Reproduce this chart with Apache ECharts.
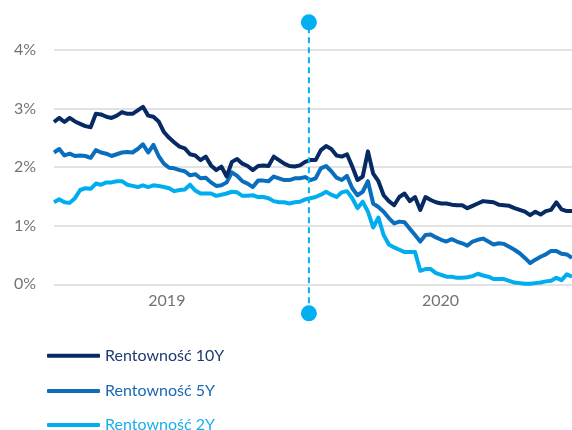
<!DOCTYPE html>
<html>
<head>
<meta charset="utf-8">
<script src="https://cdn.jsdelivr.net/npm/echarts@6/dist/echarts.min.js"></script>
<style>
  html, body { margin: 0; padding: 0; background: #ffffff; }
  #chart { width: 572px; height: 430px; }
</style>
</head>
<body>
<div id="chart"></div>
<script>
// Weekly observations (Fridays), Feb 2019 – Dec 2020
const dates = [
  '2019-02-01','2019-02-08','2019-02-15','2019-02-22','2019-03-01','2019-03-08','2019-03-15','2019-03-22','2019-03-29','2019-04-05',
  '2019-04-12','2019-04-19','2019-04-26','2019-05-03','2019-05-10','2019-05-17','2019-05-24','2019-05-31','2019-06-07','2019-06-14',
  '2019-06-21','2019-06-28','2019-07-05','2019-07-12','2019-07-19','2019-07-26','2019-08-02','2019-08-09','2019-08-16','2019-08-23',
  '2019-08-30','2019-09-06','2019-09-13','2019-09-20','2019-09-27','2019-10-04','2019-10-11','2019-10-18','2019-10-25','2019-11-01',
  '2019-11-08','2019-11-15','2019-11-22','2019-11-29','2019-12-06','2019-12-13','2019-12-20','2019-12-27','2020-01-03','2020-01-10',
  '2020-01-17','2020-01-24','2020-01-31','2020-02-07','2020-02-14','2020-02-21','2020-02-28','2020-03-06','2020-03-13','2020-03-20',
  '2020-03-27','2020-04-03','2020-04-10','2020-04-17','2020-04-24','2020-05-01','2020-05-08','2020-05-15','2020-05-22','2020-05-29',
  '2020-06-05','2020-06-12','2020-06-19','2020-06-26','2020-07-03','2020-07-10','2020-07-17','2020-07-24','2020-07-31','2020-08-07',
  '2020-08-14','2020-08-21','2020-08-28','2020-09-04','2020-09-11','2020-09-18','2020-09-25','2020-10-02','2020-10-09','2020-10-16',
  '2020-10-23','2020-10-30','2020-11-06','2020-11-13','2020-11-20','2020-11-27','2020-12-04','2020-12-11','2020-12-18','2020-12-25'
];

// Yields in percent
const yield10Y = [
  2.77, 2.84, 2.77, 2.84, 2.78, 2.74, 2.70, 2.68, 2.91, 2.90,
  2.86, 2.84, 2.88, 2.94, 2.91, 2.91, 2.97, 3.03, 2.88, 2.86,
  2.78, 2.60, 2.50, 2.42, 2.35, 2.32, 2.22, 2.20, 2.12, 2.18,
  2.03, 1.95, 2.01, 1.84, 2.09, 2.14, 2.06, 2.02, 1.95, 2.02,
  2.03, 2.02, 2.18, 2.12, 2.06, 2.02, 2.01, 2.03, 2.09, 2.12,
  2.12, 2.29, 2.36, 2.31, 2.20, 2.18, 2.22, 2.01, 1.78, 1.84,
  2.27, 1.89, 1.76, 1.52, 1.42, 1.35, 1.49, 1.55, 1.42, 1.49,
  1.27, 1.49, 1.44, 1.40, 1.38, 1.38, 1.36, 1.35, 1.35, 1.30,
  1.34, 1.38, 1.42, 1.41, 1.40, 1.36, 1.35, 1.34, 1.30, 1.27,
  1.24, 1.18, 1.24, 1.19, 1.25, 1.27, 1.40, 1.28, 1.25, 1.25
];
const yield5Y = [
  2.25, 2.31, 2.20, 2.23, 2.19, 2.20, 2.19, 2.16, 2.29, 2.25,
  2.23, 2.19, 2.22, 2.25, 2.26, 2.25, 2.31, 2.39, 2.25, 2.38,
  2.19, 2.06, 1.99, 1.98, 1.95, 1.93, 1.86, 1.88, 1.81, 1.82,
  1.74, 1.68, 1.69, 1.74, 1.91, 1.85, 1.76, 1.72, 1.66, 1.77,
  1.77, 1.76, 1.84, 1.81, 1.78, 1.78, 1.81, 1.81, 1.83, 1.78,
  1.81, 1.98, 2.02, 1.93, 1.82, 1.78, 1.85, 1.64, 1.52, 1.58,
  1.76, 1.38, 1.32, 1.24, 1.13, 1.04, 1.07, 1.06, 0.95, 0.84,
  0.73, 0.84, 0.85, 0.80, 0.76, 0.73, 0.77, 0.73, 0.70, 0.66,
  0.73, 0.76, 0.78, 0.73, 0.68, 0.70, 0.69, 0.64, 0.59, 0.53,
  0.45, 0.36, 0.42, 0.47, 0.51, 0.57, 0.57, 0.52, 0.51, 0.45
];
const yield2Y = [
  1.40, 1.45, 1.40, 1.39, 1.47, 1.61, 1.64, 1.63, 1.72, 1.70,
  1.74, 1.74, 1.76, 1.76, 1.70, 1.68, 1.66, 1.69, 1.66, 1.69,
  1.68, 1.66, 1.64, 1.59, 1.61, 1.62, 1.70, 1.60, 1.55, 1.55,
  1.55, 1.51, 1.53, 1.55, 1.58, 1.57, 1.51, 1.51, 1.52, 1.49,
  1.49, 1.47, 1.42, 1.40, 1.40, 1.38, 1.40, 1.41, 1.45, 1.47,
  1.49, 1.53, 1.58, 1.53, 1.49, 1.57, 1.59, 1.47, 1.30, 1.41,
  1.24, 0.97, 1.14, 0.84, 0.68, 0.63, 0.59, 0.55, 0.55, 0.55,
  0.23, 0.26, 0.26, 0.19, 0.16, 0.13, 0.13, 0.11, 0.11, 0.12,
  0.14, 0.18, 0.15, 0.13, 0.09, 0.09, 0.09, 0.06, 0.03, 0.02,
  0.01, 0.01, 0.02, 0.03, 0.05, 0.06, 0.11, 0.07, 0.17, 0.13
];

const seriesNames = ['Rentowność 10Y', 'Rentowność 5Y', 'Rentowność 2Y'];
const yearLabelDates = ['2019-07-02', '2020-07-02'];
const markerDate = '2020-01-08';

const colors = { y10: '#062a63', y5: '#0a6ebd', y2: '#00aeef' };
const textColors = { y10: '#1f3a70', y5: '#1a68b4', y2: '#1aaeed' };
const font = 'Lato, "Open Sans", sans-serif';

// Dates are placed on a numeric (timestamp) axis
const ts = d => Date.parse(d);
const pairs = vals => dates.map((d, i) => [ts(d), vals[i]]);
const xMin = ts(dates[0]);
const xMax = ts(dates[dates.length - 1]);

const chart = echarts.init(document.getElementById('chart'), null, { renderer: 'canvas' });

function legendAt(name, top, color) {
  return {
    data: [name],
    left: 47,
    top: top,
    padding: 0,
    icon: 'roundRect',
    itemWidth: 53,
    itemHeight: 4,
    selectedMode: false,
    textStyle: { color: color, fontSize: 16, fontFamily: font, lineHeight: 20 }
  };
}

chart.setOption({
  animation: false,
  backgroundColor: '#ffffff',
  grid: [
    { left: 54, right: 0, top: 50, bottom: 145.7 },
    { left: 54, right: 0, top: 22.3, bottom: 116.7 }
  ],
  xAxis: [
    {
      type: 'value',
      gridIndex: 0,
      min: xMin,
      max: xMax,
      axisLine: { show: false },
      axisTick: { show: false },
      splitLine: { show: false },
      axisLabel: {
        customValues: yearLabelDates.map(ts),
        formatter: v => String(new Date(v).getUTCFullYear()),
        color: '#737373',
        fontSize: 16,
        fontFamily: font,
        margin: 9
      }
    },
    {
      type: 'value',
      gridIndex: 1,
      min: xMin,
      max: xMax,
      show: false
    }
  ],
  yAxis: [
    {
      type: 'value',
      gridIndex: 0,
      min: 0,
      max: 4,
      interval: 1,
      axisLine: { show: false },
      axisTick: { show: false },
      axisLabel: {
        formatter: '{value}%',
        color: '#737373',
        fontSize: 16,
        fontFamily: font,
        margin: 18
      },
      splitLine: { lineStyle: { color: '#d9d9d9', width: 1.5 } }
    },
    { type: 'value', gridIndex: 1, min: 0, max: 1, show: false }
  ],
  legend: [
    legendAt(seriesNames[0], 345.7, textColors.y10),
    legendAt(seriesNames[1], 381, textColors.y5),
    legendAt(seriesNames[2], 415, textColors.y2)
  ],
  series: [
    {
      name: seriesNames[2], type: 'line', data: pairs(yield2Y),
      showSymbol: false, symbol: 'none', color: colors.y2,
      lineStyle: { width: 4, color: colors.y2, join: 'round' }
    },
    {
      name: seriesNames[1], type: 'line', data: pairs(yield5Y),
      showSymbol: false, symbol: 'none', color: colors.y5,
      lineStyle: { width: 4, color: colors.y5, join: 'round' }
    },
    {
      name: seriesNames[0], type: 'line', data: pairs(yield10Y),
      showSymbol: false, symbol: 'none', color: colors.y10,
      lineStyle: { width: 4, color: colors.y10, join: 'round' }
    },
    {
      name: 'marker', type: 'line', xAxisIndex: 1, yAxisIndex: 1,
      data: [[ts(markerDate), 0], [ts(markerDate), 1]],
      symbol: 'circle', symbolSize: 16, showSymbol: true, silent: true,
      itemStyle: { color: '#00b0f0' },
      lineStyle: { color: '#00b0f0', width: 2, type: [6, 4] },
      z: 5
    }
  ]
});
</script>
</body>
</html>
